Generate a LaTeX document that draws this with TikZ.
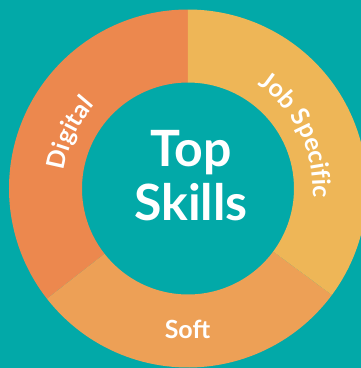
\documentclass[tikz,border=0pt]{standalone}
\usepackage{fontspec}
\setmainfont{Lato}
\usetikzlibrary{decorations.text}
\definecolor{bgteal}{HTML}{02A9A8}
\definecolor{digital}{HTML}{EC884E}
\definecolor{jobspec}{HTML}{EEB657}
\definecolor{softc}{HTML}{EDA056}
\newcommand{\lblfont}{\fontsize{25}{30}\selectfont\bfseries}
\tikzset{
  seg/.style={draw=none},
  title/.style={text=white, font=\fontsize{50}{60}\selectfont\bfseries, inner sep=0pt, anchor=base},
  lbl/.style={text=white, font=\lblfont, inner sep=0pt, anchor=base},
  arclabel/.style={decorate, decoration={text along path, text align=center, text color=white}}
}
\begin{document}
\begin{tikzpicture}[x=1pt,y=1pt]
\fill[bgteal] (-188,-179.5) rectangle (173,188.5);
\useasboundingbox (-188,-179.5) rectangle (173,188.5);
\fill[digital,seg] (90:179) arc[start angle=90, end angle=218, radius=179] -- (218:106) arc[start angle=218, end angle=90, radius=106] -- cycle;
\fill[softc,seg] (218:179) arc[start angle=218, end angle=323.5, radius=179] -- (323.5:106) arc[start angle=323.5, end angle=218, radius=106] -- cycle;
\fill[jobspec,seg] (323.5:179) arc[start angle=323.5, end angle=450, radius=179] -- (90:106) arc[start angle=90, end angle=-36.5, radius=106] -- cycle;
\node[title] (top) at (3.5,22.5) {Top};
\node[title] (skills) at (3,-31.5) {Skills};
\node[lbl] (soft) at (-0.5,-150) {Soft};
\path[arclabel, decoration={text={|\lblfont|Job Specific}}] (66:125) arc[start angle=66, end angle=-14, radius=125];
\path[arclabel, decoration={text={|\lblfont|Digital}}] (175:125) arc[start angle=175, end angle=135, radius=125];
\end{tikzpicture}
\end{document}
